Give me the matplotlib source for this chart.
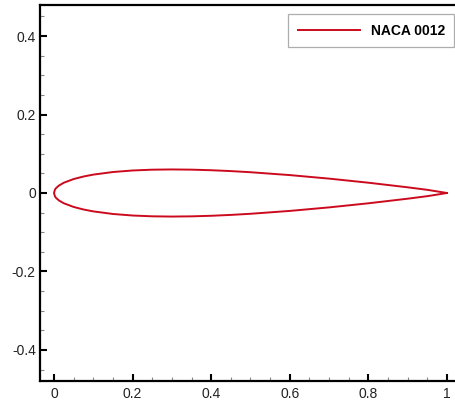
import matplotlib
matplotlib.use("Agg")
import matplotlib.pyplot as plt
from matplotlib.ticker import MultipleLocator

# NACA 0012 half-thickness ordinates (chord-normalised)
x_station = [0.0, 0.0025, 0.005, 0.0125, 0.025, 0.05, 0.075, 0.1, 0.15, 0.2,
             0.25, 0.3, 0.35, 0.4, 0.45, 0.5, 0.6, 0.7, 0.8, 0.9, 0.95, 1.0]
y_half = [0.0, 0.00872, 0.01221, 0.01894, 0.02615, 0.03555, 0.04200, 0.04683,
          0.05345, 0.05737, 0.05941, 0.06002, 0.05949, 0.05803, 0.05581,
          0.05294, 0.04563, 0.03664, 0.02623, 0.01448, 0.00807, 0.0]
series_label = "NACA 0012"

# closed contour: upper surface TE -> LE, then lower surface LE -> TE
x_contour = x_station[::-1] + x_station[1:]
y_contour = y_half[::-1] + [-v for v in y_half[1:]]

plt.rcParams["font.family"] = ["Liberation Sans", "DejaVu Sans"]

W, H = 455, 401
fig = plt.figure(figsize=(W / 100, H / 100), dpi=100)

x_lo, x_hi = -0.0356, 1.05
y_lo, y_hi = -0.479, 0.479
px_per_unit = 393.0
left_px, bottom_px = 40, 20
ax = fig.add_axes([left_px / W, bottom_px / H,
                   (x_hi - x_lo) * px_per_unit / W, 376 / H])

ax.plot(x_contour, y_contour, color="#cc0a1e", lw=1.4, label=series_label)

ax.set_xlim(x_lo, x_hi)
ax.set_ylim(y_lo, y_hi)

for side in ("left", "bottom", "top", "right"):
    ax.spines[side].set_linewidth(1.6)
    ax.spines[side].set_color("black")

ax.xaxis.set_major_locator(MultipleLocator(0.2))
ax.xaxis.set_minor_locator(MultipleLocator(0.05))
ax.yaxis.set_major_locator(MultipleLocator(0.2))
ax.yaxis.set_minor_locator(MultipleLocator(0.05))


def fmt(v, pos):
    if abs(v) < 1e-9:
        return "0"
    s = f"{v:.1f}"
    if s.endswith(".0"):
        s = s[:-2]
    return s


ax.xaxis.set_major_formatter(plt.FuncFormatter(fmt))
ax.yaxis.set_major_formatter(plt.FuncFormatter(fmt))

ax.tick_params(which="major", direction="in", length=5, width=1.5,
               labelsize=10, color="black", labelcolor="#222222",
               top=False, right=False)
ax.tick_params(which="minor", direction="in", length=3, width=0.8,
               color="#888888", top=False, right=False)
ax.tick_params(axis="x", which="major", pad=4)
ax.tick_params(axis="y", which="major", pad=3)

leg = ax.legend(loc="upper left", bbox_to_anchor=(288 / W, 1 - 14 / H),
                bbox_transform=fig.transFigure, borderaxespad=0,
                fancybox=False, frameon=True, handlelength=4.5,
                handletextpad=0.75, borderpad=0.7,
                prop={"weight": "bold", "size": 10})
leg.get_frame().set_edgecolor("#999999")
leg.get_frame().set_linewidth(0.9)

fig.savefig("out.png", dpi=100)
